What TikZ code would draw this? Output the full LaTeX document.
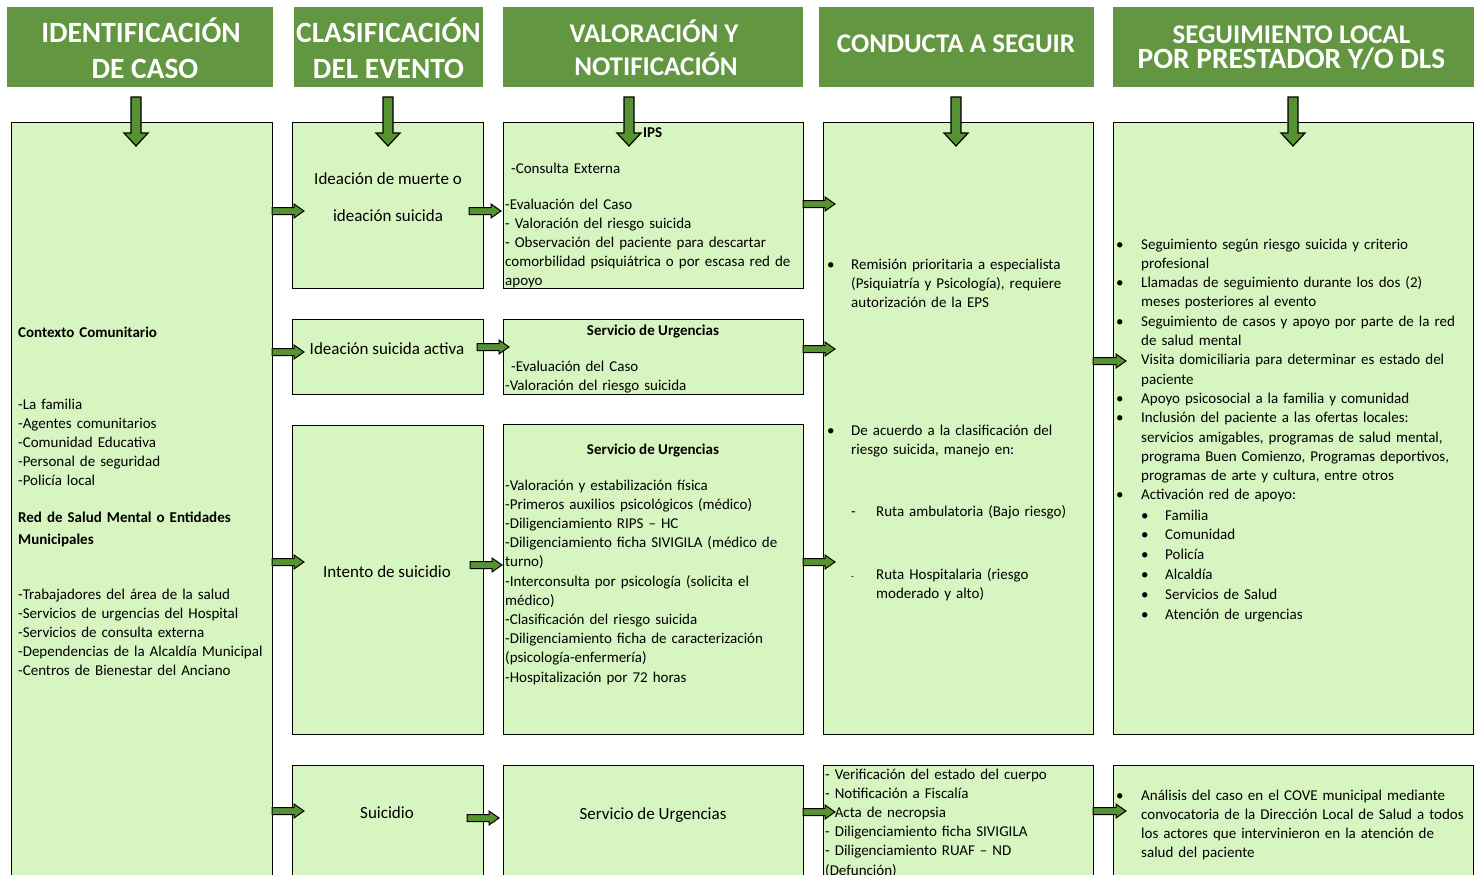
\documentclass[tikz,border=0pt]{standalone}
\usepackage{fontspec}
\setmainfont{Carlito}
\usetikzlibrary{calc}
\definecolor{hdrgreen}{RGB}{98,150,64}
\definecolor{boxgreen}{RGB}{214,245,192}
\definecolor{arrgreen}{RGB}{86,145,50}
\tikzset{
  hdr/.style={fill=hdrgreen, draw=none, anchor=north west, inner sep=0pt, outer sep=0pt},
  stepbox/.style={fill=boxgreen, draw=black, line width=0.9pt, anchor=north west, inner sep=0pt, outer sep=0pt},
  htxt/.style={text=white, font=\bfseries\fontsize{29.4pt}{34pt}\selectfont, anchor=base, inner sep=0pt},
  htxts/.style={text=white, font=\bfseries\fontsize{27pt}{30pt}\selectfont, anchor=base, inner sep=0pt},
  body/.style={font=\fontsize{15pt}{19.2pt}\selectfont, inner sep=0pt, anchor=base west, align=left, text width=420pt},
  bodyc/.style={font=\fontsize{15pt}{19.2pt}\selectfont, inner sep=0pt, anchor=base},
  bigc/.style={font=\fontsize{17pt}{20pt}\selectfont, inner sep=0pt, anchor=base},
  boldf/.style={font=\bfseries\fontsize{15pt}{19.2pt}\selectfont},
  harr/.style={fill=arrgreen, draw=black, line width=1pt, line join=miter,
    to path={let \p1=(\tikztostart), \p2=(\tikztotarget) in
      (\x1,\y1+3.5pt) -- (\x2-10pt,\y1+3.5pt) -- (\x2-10pt,\y1+7pt) -- (\x2,\y1)
      -- (\x2-10pt,\y1-7pt) -- (\x2-10pt,\y1-3.5pt) -- (\x1,\y1-3.5pt) -- cycle}},
  varr/.style={fill=arrgreen, draw=black, line width=1.2pt, line join=miter,
    to path={let \p1=(\tikztostart), \p2=(\tikztotarget) in
      (\x1-5pt,\y1) -- (\x1+5pt,\y1) -- (\x1+5pt,\y2+13pt) -- (\x1+12pt,\y2+13pt) -- (\x1,\y2)
      -- (\x1-12pt,\y2+13pt) -- (\x1-5pt,\y2+13pt) -- cycle}}
}
\newcommand{\bul}{\makebox[25pt][l]{\textbullet}}
\newcommand{\ind}{\hspace*{25pt}}
\newcommand{\sbul}{\makebox[24pt][l]{\textbullet}}
\begin{document}
\begin{tikzpicture}[x=1pt,y=-1pt]
\useasboundingbox (0,0) rectangle (1481,875);
% headers
\node[hdr, minimum width=266pt, minimum height=80pt] (h1) at (7,7) {};
\node[hdr, minimum width=189pt, minimum height=80pt] (h2) at (294,7) {};
\node[hdr, minimum width=300pt, minimum height=80pt] (h3) at (503,7) {};
\node[hdr, minimum width=275pt, minimum height=80pt] (h4) at (819,7) {};
\node[hdr, minimum width=361pt, minimum height=80pt] (h5) at (1113,7) {};
\node[htxt] (h1a) at (141,43) {IDENTIFICACIÓN};
\node[htxt] (h1b) at (145,79) {DE CASO};
\node[htxt] (h2a) at (388.5,43) {CLASIFICACIÓN};
\node[htxt] (h2b) at (388.5,79) {DEL EVENTO};
\node[htxts] (h3a) at (654,43) {VALORACIÓN Y};
\node[htxts] (h3b) at (656,75) {NOTIFICACIÓN};
\node[htxts] (h4a) at (956,53) {CONDUCTA A SEGUIR};
\node[text=white, font=\bfseries\fontsize{27pt}{25pt}\selectfont, anchor=base, inner sep=0pt, align=center] (h5a) at (1291.5,69)
  {SEGUIMIENTO LOCAL\\{\fontsize{29.4pt}{25pt}\selectfont POR PRESTADOR Y/O DLS}};
% boxes
\node[stepbox, minimum width=261pt, minimum height=780pt] (c1) at (11,122) {};
\node[stepbox, minimum width=191pt, minimum height=166pt] (c2a) at (292,122) {};
\node[stepbox, minimum width=191pt, minimum height=75pt] (c2b) at (292,319) {};
\node[stepbox, minimum width=191pt, minimum height=309pt] (c2c) at (292,425) {};
\node[stepbox, minimum width=191pt, minimum height=140pt] (c2d) at (292,765) {};
\node[stepbox, minimum width=300pt, minimum height=166pt] (c3a) at (503,122) {};
\node[stepbox, minimum width=300pt, minimum height=75pt] (c3b) at (503,319) {};
\node[stepbox, minimum width=300pt, minimum height=310pt] (c3c) at (503,424) {};
\node[stepbox, minimum width=300pt, minimum height=140pt] (c3d) at (503,765) {};
\node[stepbox, minimum width=270pt, minimum height=612pt] (c4a) at (823,122) {};
\node[stepbox, minimum width=270pt, minimum height=140pt] (c4b) at (823,765) {};
\node[stepbox, minimum width=360pt, minimum height=612pt] (c5a) at (1113,122) {};
\node[stepbox, minimum width=360pt, minimum height=140pt] (c5b) at (1113,765) {};
% column 1 text
\node[body, boldf] (t1) at (18,337) {Contexto Comunitario};
\node[body] (t2) at (18,409) {-La familia\\-Agentes comunitarios\\-Comunidad Educativa\\-Personal de seguridad\\-Policía local};
\node[body, font=\bfseries\fontsize{15pt}{22pt}\selectfont] (t3) at (18,522) {Red de Salud Mental o Entidades\\Municipales};
\node[body] (t4) at (18,599) {-Trabajadores del área de la salud\\-Servicios de urgencias del Hospital\\-Servicios de consulta externa\\-Dependencias de la Alcaldía Municipal\\-Centros de Bienestar del Anciano};
% column 2 text
\node[bigc] (t5) at (388,184) {Ideación de muerte o};
\node[bigc] (t6) at (388,221) {ideación suicida};
\node[bigc] (t7) at (387,354) {Ideación suicida activa};
\node[bigc] (t8) at (387,577) {Intento de suicidio};
\node[bigc] (t9) at (387,818) {Suicidio};
% column 3 text
\node[body, boldf] (t10) at (643,137) {IPS};
\node[body] (t11) at (511,173) {-Consulta Externa};
\node[body] (t12) at (505,209) {-Evaluación del Caso\\- Valoración del riesgo suicida\\- Observación del paciente para descartar\\comorbilidad psiquiátrica o por escasa red de\\apoyo};
\node[bodyc, boldf] (t13) at (653,335) {Servicio de Urgencias};
\node[body] (t14) at (511,371) {-Evaluación del Caso};
\node[body] (t15) at (505,390) {-Valoración del riesgo suicida};
\node[bodyc, boldf] (t16) at (653,454) {Servicio de Urgencias};
\node[body] (t17) at (505,490) {-Valoración y estabilización física\\-Primeros auxilios psicológicos (médico)\\-Diligenciamiento RIPS – HC\\-Diligenciamiento ficha SIVIGILA (médico de\\turno)\\-Interconsulta por psicología (solicita el\\médico)\\-Clasificación del riesgo suicida\\-Diligenciamiento ficha de caracterización\\(psicología-enfermería)\\-Hospitalización por 72 horas};
\node[bigc] (t18) at (653,819) {Servicio de Urgencias};
% column 4 text
\node[body] (t19) at (827,269) {\sbul Remisión prioritaria a especialista\\\hspace*{24pt}(Psiquiatría y Psicología), requiere\\\hspace*{24pt}autorización de la EPS};
\node[body] (t20) at (827,435) {\sbul De acuerdo a la clasificación del\\\hspace*{24pt}riesgo suicida, manejo en:};
\node[body] (t21) at (851,516) {\makebox[25pt][l]{-}Ruta ambulatoria (Bajo riesgo)};
\node[body] (t22) at (851,579) {\makebox[25pt][l]{\fontsize{9pt}{10pt}\selectfont -}Ruta Hospitalaria (riesgo\\\hspace*{25pt}moderado y alto)};
\node[body] (t23) at (825,779) {- Verificación del estado del cuerpo\\- Notificación a Fiscalía\\- Acta de necropsia\\- Diligenciamiento ficha SIVIGILA\\- Diligenciamiento RUAF – ND\\(Defunción)};
% column 5 text
\node[body, font=\fontsize{15pt}{19.3pt}\selectfont] (t24) at (1116,249) {\bul Seguimiento según riesgo suicida y criterio\\\ind profesional\\\bul Llamadas de seguimiento durante los dos (2)\\\ind meses posteriores al evento\\\bul Seguimiento de casos y apoyo por parte de la red\\\ind de salud mental\\\bul Visita domiciliaria para determinar es estado del\\\ind paciente\\\bul Apoyo psicosocial a la familia y comunidad\\\bul Inclusión del paciente a las ofertas locales:\\\ind servicios amigables, programas de salud mental,\\\ind programa Buen Comienzo, Programas deportivos,\\\ind programas de arte y cultura, entre otros\\\bul Activación red de apoyo:};
\node[body, font=\fontsize{15pt}{19.8pt}\selectfont] (t25) at (1141,520) {\sbul Familia\\\sbul Comunidad\\\sbul Policía\\\sbul Alcaldía\\\sbul Servicios de Salud\\\sbul Atención de urgencias};
\node[body] (t26) at (1116,800) {\bul Análisis del caso en el COVE municipal mediante\\\ind convocatoria de la Dirección Local de Salud a todos\\\ind los actores que intervinieron en la atención de\\\ind salud del paciente};
% down arrows
\coordinate (d1s) at (136,97);  \coordinate (d1e) at (136,146);
\coordinate (d2s) at (388,97);  \coordinate (d2e) at (388,146);
\coordinate (d3s) at (629,97);  \coordinate (d3e) at (629,146);
\coordinate (d4s) at (956,97);  \coordinate (d4e) at (956,146);
\coordinate (d5s) at (1293,97); \coordinate (d5e) at (1293,146);
\draw[varr] (d1s) to (d1e);
\draw[varr] (d2s) to (d2e);
\draw[varr] (d3s) to (d3e);
\draw[varr] (d4s) to (d4e);
\draw[varr] (d5s) to (d5e);
% right arrows col1 -> col2
\draw[harr] (c1.east |- 0,211) to ($(c2a.west |- 0,211)+(12,0)$);
\draw[harr] (c1.east |- 0,352) to ($(c2b.west |- 0,352)+(12,0)$);
\draw[harr] (c1.east |- 0,562) to ($(c2c.west |- 0,562)+(12,0)$);
\draw[harr] (c1.east |- 0,811) to ($(c2d.west |- 0,811)+(12,0)$);
% col2 -> col3
\draw[harr] ($(c2a.east |- 0,211)+(-14,0)$) to ($(c3a.west |- 0,211)+(-2,0)$);
\draw[harr] ($(c2b.east |- 0,347)+(-6,0)$) to ($(c3b.west |- 0,347)+(6,0)$);
\draw[harr] ($(c2c.east |- 0,565)+(-13,0)$) to ($(c3c.west |- 0,565)+(-1,0)$);
\draw[harr] ($(c2d.east |- 0,818)+(-16,0)$) to ($(c3d.west |- 0,818)+(-4,0)$);
% col3 -> col4
\draw[harr] (c3a.east |- 0,204) to ($(c4a.west |- 0,204)+(12,0)$);
\draw[harr] (c3b.east |- 0,349) to ($(c4a.west |- 0,349)+(12,0)$);
\draw[harr] (c3c.east |- 0,562) to ($(c4a.west |- 0,562)+(12,0)$);
\draw[harr] (c3d.east |- 0,812) to ($(c4b.west |- 0,812)+(12,0)$);
% col4 -> col5
\draw[harr] (c4a.east |- 0,361) to ($(c5a.west |- 0,361)+(13,0)$);
\draw[harr] (c4b.east |- 0,811) to ($(c5b.west |- 0,811)+(13,0)$);
\end{tikzpicture}
\end{document}
